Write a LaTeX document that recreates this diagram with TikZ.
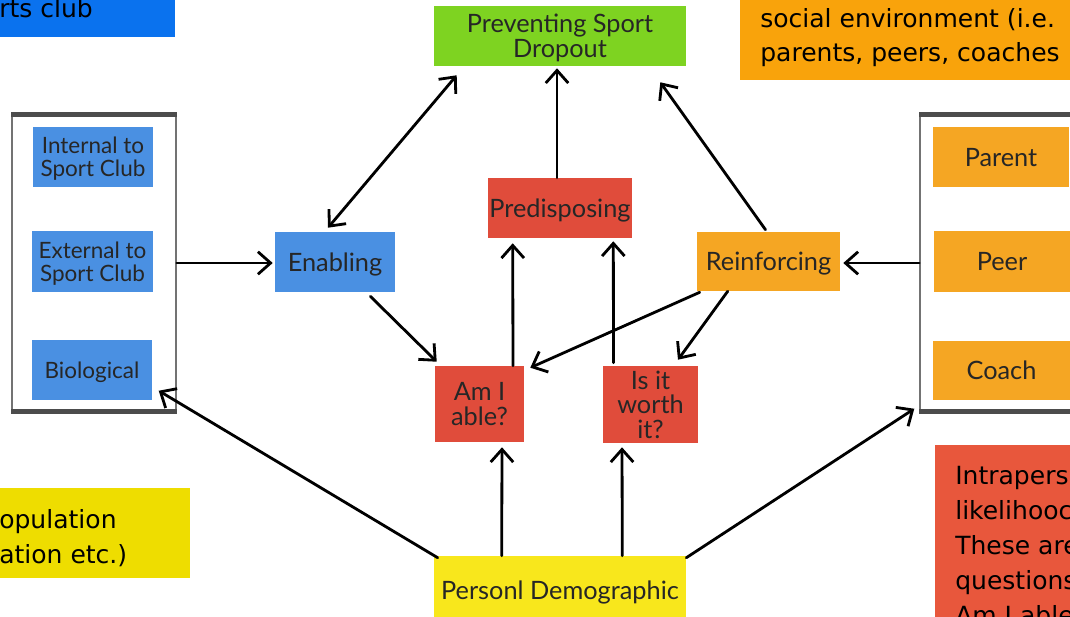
\documentclass[tikz,border=0pt]{standalone}
\usepackage{fontspec}
\setmainfont{Lato}
\newfontfamily\notefont{DejaVu Sans}
\usetikzlibrary{calc,arrows.meta}

\definecolor{boxblue}{HTML}{4A90E2}
\definecolor{boxred}{HTML}{E04C3B}
\definecolor{boxorange}{HTML}{F5A623}
\definecolor{boxgreen}{HTML}{7ED321}
\definecolor{boxyellow}{HTML}{F8E71C}
\definecolor{noteblue}{HTML}{0A72EE}
\definecolor{noteorange}{HTML}{F9A30B}
\definecolor{noteyellow}{HTML}{EEDD00}
\definecolor{notered}{HTML}{E8573C}

\tikzset{
	box/.style={rectangle, inner sep=0pt, align=center, text=black!85, text depth=0pt,
		font=\fontsize{18}{17.5}\selectfont},
	smallbox/.style={box, font=\fontsize{16}{16.3}\selectfont},
	frame/.style={rectangle, draw=black!55, line width=1pt, inner sep=0pt},
	bar/.style={line width=3.5pt, color=black!70},
	note/.style={inner sep=0pt, align=left, text=black,
		font=\notefont\fontsize{17.8}{24.8}\selectfont},
	arr/.style={line width=2pt, line cap=round, -{Straight Barb[length=9pt,width=16pt]}},
	arrtwo/.style={line width=2pt, line cap=round, {Straight Barb[length=9pt,width=16pt]}-{Straight Barb[length=9pt,width=16pt]}}
}

\begin{document}
\begin{tikzpicture}[x=0.025cm, y=-0.025cm]
			%%%%% START %%%%%
			\useasboundingbox (0,0) rectangle (1070,617);
			\clip (0,0) rectangle (1070,617);
			
			% notes cut by the edges
			\fill[noteblue] (0,0) rectangle (175,37);
			\node[note, anchor=base west] (clubtxt) at (-1,18) {rts club};
			
			\fill[noteorange] (740,0) rectangle (1070,80);
			\node[note, anchor=base west] (socialtxt) at (760,62) {social environment (i.e.\\parents, peers, coaches};
			
			\fill[noteyellow] (0,488) rectangle (190,578);
			\node[note, anchor=base west] (poptxt) at (-1,563) {opulation\\ation etc.)};
			
			\fill[notered] (935,445) rectangle (1070,617);
			\node[note, anchor=base west] (intratxt) at (955,624) {Intrapers\\likelihooc\\These are\\questions\\Am I able};
			
			% main boxes
			\node[box, fill=boxgreen, minimum width=6.3cm, minimum height=1.5cm] (prevent) at (560,36) {Preventing Sport\\Dropout};
			\node[box, fill=boxred, minimum width=3.6cm, minimum height=1.5cm] (predis) at (560,208) {Predisposing};
			\node[box, fill=boxblue, minimum width=3cm, minimum height=1.5cm] (enab) at (335,262) {Enabling};
			\node[box, fill=boxorange, minimum width=3.575cm, minimum height=1.475cm] (reinf) at (768.5,261.5) {Reinforcing};
			\node[box, fill=boxred, minimum width=2.225cm, minimum height=1.9cm] (ami) at (479.5,404) {Am I\\able?};
			\node[box, fill=boxred, minimum width=2.375cm, minimum height=1.925cm] (worth) at (650.5,404.5) {Is it\\worth\\it?};
			\node[box, fill=boxyellow, minimum width=6.3cm, minimum height=1.7cm] (personl) at (560,590) {Personl Demographic};
			
			% left group
			\node[frame, minimum width=4.1cm, minimum height=7.4cm] (lframe) at (94,263) {};
			\draw[bar] (lframe.north west) -- (lframe.north east);
			\draw[bar] (lframe.south west) -- (lframe.south east);
			\node[smallbox, fill=boxblue, minimum width=3cm, minimum height=1.5cm] (internal) at (93,157) {Internal to\\Sport Club};
			\node[smallbox, fill=boxblue, minimum width=3cm, minimum height=1.5cm] (external) at (92.5,261.5) {External to\\Sport Club};
			\node[smallbox, fill=boxblue, minimum width=3cm, minimum height=1.5cm] (bio) at (92,370) {Biological};
			
			% right group
			\node[frame, minimum width=4cm, minimum height=7.4cm] (rframe) at (1000,263) {};
			\draw[bar] (rframe.north west) -- (rframe.north east);
			\draw[bar] (rframe.south west) -- (rframe.south east);
			\node[box, fill=boxorange, minimum width=3.4cm, minimum height=1.5cm] (parent) at (1001,157) {Parent};
			\node[box, fill=boxorange, minimum width=3.4cm, minimum height=1.5cm] (peer) at (1002,261.5) {Peer};
			\node[box, fill=boxorange, minimum width=3.4cm, minimum height=1.475cm] (coach) at (1001.5,370.5) {Coach};
			
			% arrows
			\draw[arrtwo] ($(enab.north)+(-7,-4)$) -- ($(prevent.south west)+(23,9)$);
			\draw[arr] ($(predis.north)+(-3,0)$) -- ($(prevent.south)+(-3,2)$);
			\draw[arr] ($(reinf.north)+(-3,-2)$) -- ($(prevent.south east)+(-26,16)$);
			
			\draw[arr] (lframe.east) -- ($(lframe.east -| enab.west)+(-2,0)$);
			\draw[arr] (rframe.west) -- ($(rframe.west -| reinf.east)+(3,0)$);
			
			\draw[arr] ($(enab.south east)+(-25,4)$) -- ($(ami.north west)+(2,-4)$);
			\draw[arr] ($(reinf.south west)+(3,1)$) -- ($(ami.north east)+(6,2)$);
			\draw[arr] ($(reinf.south west)+(31,0)$) -- ($(worth.north)+(27.5,-6)$);
			
			\draw[arr] ($(ami.north)+(33.5,0)$) -- ($(predis.south west)+(25,5)$);
			\draw[arr] ($(worth.north)+(-37,-3)$) -- ($(predis.south east)+(-19,3)$);
			
			\draw[arr] ($(personl.north west)+(68,0)$) -- ($(ami.south)+(22.5,5)$);
			\draw[arr] ($(personl.north east)+(-64,0)$) -- ($(worth.south)+(-28.5,4)$);
			\draw[arr] ($(personl.north west)+(4,2)$) -- ($(lframe.south east)+(-18,-21)$);
			\draw[arr] ($(personl.north east)+(0,2)$) -- ($(rframe.south west)+(-5,-3)$);
			
			%%%%% END %%%%%
\end{tikzpicture}
\end{document}
